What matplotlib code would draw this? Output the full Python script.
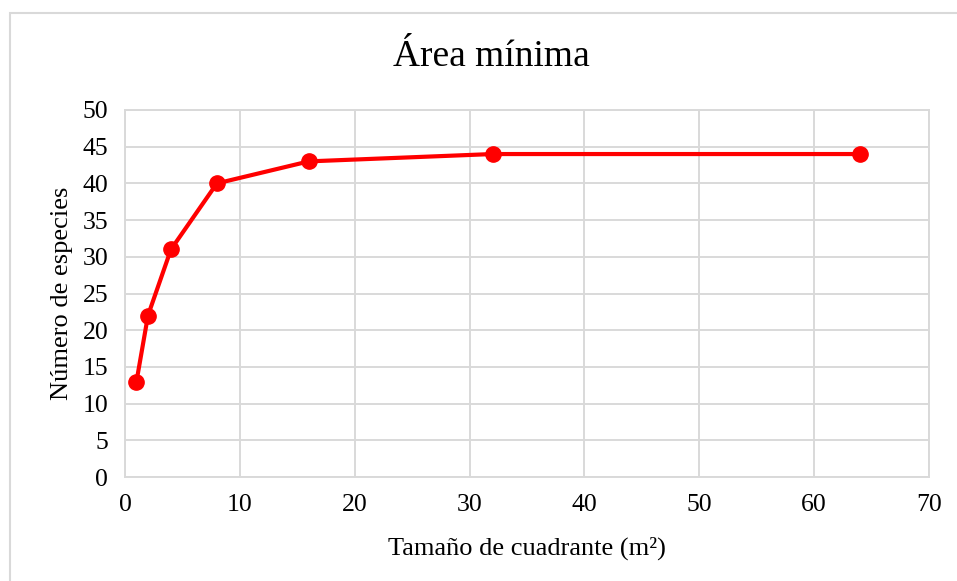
import numpy as np
from matplotlib import pyplot as plt
from matplotlib.patches import Rectangle

# data
tamano = [1, 2, 4, 8, 16, 32, 64]
especies = [13, 22, 31, 40, 43, 44, 44]

plt.rcParams['font.family'] = ['Liberation Serif', 'DejaVu Serif']

fig = plt.figure(figsize = (9.57, 5.81), dpi = 100)
ax = fig.add_axes([125/957, 1 - 477/581, (929 - 125)/957, (477 - 110)/581])

# outer chart border (Excel style)
fig.patches.append(Rectangle((10/957, -0.1), 1.2, 1 - 13/581 + 0.1, transform = fig.transFigure,
                             fill = False, edgecolor = '#d9d9d9', linewidth = 1.5))

ax.plot(tamano, especies, color = '#ff0000', linewidth = 3, marker = 'o', markersize = 11,
        markerfacecolor = '#ff0000', markeredgecolor = '#ff0000', zorder = 3)

ax.set_xlim(0, 70)
ax.set_ylim(0, 50)
ax.set_xticks(np.arange(0, 71, 10))
ax.set_yticks(np.arange(0, 51, 5))
ax.grid(True, color = '#d9d9d9', linewidth = 1.4)
ax.set_axisbelow(True)
for s in ax.spines.values():
    s.set_color('#d9d9d9')
    s.set_linewidth(1.4)
ax.tick_params(length = 0, labelsize = 18.5, pad = 12)

# title is centred on the whole chart area, not on the axes
fig.text(491/957, 1 - 57/581, 'Área mínima', fontsize = 27, ha = 'center', va = 'center')
ax.set_xlabel('Tamaño de cuadrante (m²)', fontsize = 19, labelpad = 15)
ax.set_ylabel('Número de especies', fontsize = 19, labelpad = 7)

plt.savefig('out.png', dpi = 100)
